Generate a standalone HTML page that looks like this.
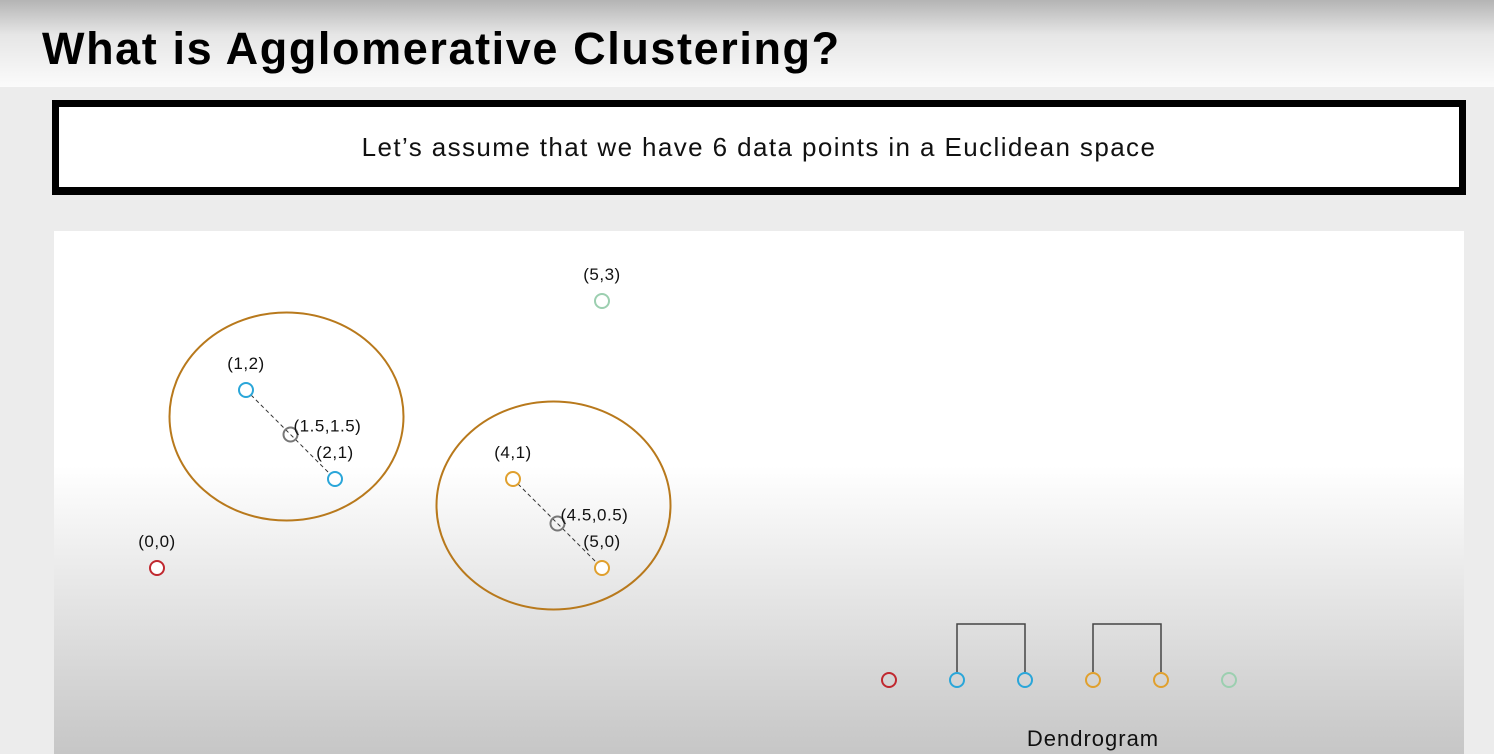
<!DOCTYPE html>
<html><head><meta charset="utf-8"><style>
html,body{margin:0;padding:0;}
body{width:1494px;height:754px;overflow:hidden;position:relative;font-family:"Liberation Sans",sans-serif;background:#ececec;}
#hdr{position:absolute;left:0;top:0;width:1494px;height:87px;background:linear-gradient(#b4b4b4,#e6e6e6 40%,#fbfbfb);}
#title{position:absolute;left:42px;top:23px;font-size:45px;font-weight:bold;color:#000;letter-spacing:1.6px;}
#box{position:absolute;left:52px;top:100px;width:1414px;height:95px;box-sizing:border-box;border:7px solid #000;border-width:7px 7px 8px 7px;background:#fff;text-align:center;line-height:80px;font-size:26px;color:#111;letter-spacing:1.4px;}
#panel{position:absolute;left:54px;top:231px;width:1410px;height:523px;background:linear-gradient(#fff 0%,#fff 45%,#c6c6c6 100%);}
svg{position:absolute;left:0;top:0;}
</style></head><body>
<div id="hdr"></div>
<div id="title">What is Agglomerative Clustering?</div>
<div id="box">Let’s assume that we have 6 data points in a Euclidean space</div>
<div id="panel"></div>
<svg id="chart" width="1494" height="754"></svg>
<script>
const labels=["(0,0)","(1,2)","(2,1)","(4,1)","(5,0)","(5,3)"];
const xs=[0,1,2,4,5,5];
const ys=[0,2,1,1,0,3];
const colors=["#c0282f","#2aa6d9","#2aa6d9","#e0a02e","#e0a02e","#9ccfb0"];
const centroidLabels=["(1.5,1.5)","(4.5,0.5)"];
const cxs=[1.5,4.5];
const cys=[1.5,0.5];
const pairs=[[1,2],[3,4]];
const dendroOrder=[0,1,2,3,4,5];
const ns="http://www.w3.org/2000/svg";
const svg=document.getElementById('chart');
function X(v){return 157+89*v;}
function Y(v){return 568-89*v;}
function mk(t,a){const e=document.createElementNS(ns,t);for(const k in a)e.setAttribute(k,a[k]);svg.appendChild(e);return e;}
pairs.forEach((p,i)=>{
 const mx=(X(xs[p[0]])+X(xs[p[1]]))/2, my=(Y(ys[p[0]])+Y(ys[p[1]]))/2;
 const e=mk('ellipse',{cx:mx-4,cy:my-18,rx:117,ry:104,fill:'none',stroke:'#b8791c','stroke-width':2});
 
 
 const l=mk('line',{x1:X(xs[p[0]]),y1:Y(ys[p[0]]),x2:X(xs[p[1]]),y2:Y(ys[p[1]]),stroke:'#333','stroke-width':1,'stroke-dasharray':'4,3'});
 
 
});
labels.forEach((s,i)=>{
 const c=mk('circle',{cx:X(xs[i]),cy:Y(ys[i]),r:7,fill:'#fff',stroke:colors[i],'stroke-width':2});
 
 
 const t=mk('text',{x:X(xs[i]),y:Y(ys[i])-21,'text-anchor':'middle','font-size':17,fill:'#111','letter-spacing':0.5});
 t.textContent=s;
 
 
});
centroidLabels.forEach((s,i)=>{
 const c=mk('circle',{cx:X(cxs[i]),cy:Y(cys[i]),r:7,fill:'none',stroke:'#777','stroke-width':2});
 
 
 const t=mk('text',{x:X(cxs[i])+3,y:Y(cys[i])-3,'font-size':17,fill:'#111','letter-spacing':0.5});
 t.textContent=s;
 
 
});
function DX(k){return 889+68*k;}
const DY=680;
pairs.forEach((p,i)=>{
 const a=DX(dendroOrder.indexOf(p[0])),b=DX(dendroOrder.indexOf(p[1]));
 const pl=mk('polyline',{points:`${a},${DY-8} ${a},624 ${b},624 ${b},${DY-8}`,fill:'none',stroke:'#444','stroke-width':1.5});
 
 
});
dendroOrder.forEach((idx,k)=>{
 const c=mk('circle',{cx:DX(k),cy:DY,r:7,fill:'none',stroke:colors[idx],'stroke-width':2});
 
 
});
const dt=mk('text',{x:1093,y:746,'text-anchor':'middle','font-size':22,fill:'#111','letter-spacing':1});
dt.textContent='Dendrogram';


</script>
</body></html>
